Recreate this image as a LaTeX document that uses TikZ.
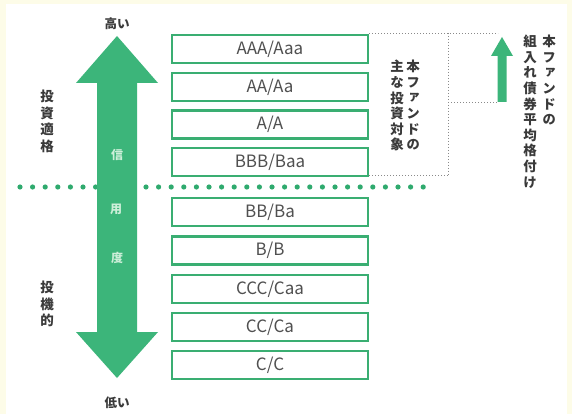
\documentclass[tikz,border=0pt]{standalone}
\usepackage{fontspec}
\setmainfont{Noto Sans CJK JP}
\newfontfamily\jpv[RawFeature=+vert]{Noto Sans CJK JP}
\definecolor{cream}{HTML}{FDFCE8}
\definecolor{agreen}{HTML}{3CB57A}
\definecolor{boxgreen}{HTML}{3AAE72}
\definecolor{dotgreen}{HTML}{2FAA6E}
\definecolor{textdark}{HTML}{3A3A3A}
\definecolor{textgray}{HTML}{505050}
\definecolor{palegreen}{HTML}{CDEFD9}
\definecolor{dotgray}{HTML}{8A8A8A}
\tikzset{
  rbox/.style={draw=boxgreen, line width=2.4, minimum width=196, minimum height=28, inner sep=0, fill=white,
    font=\fontsize{17}{17}\selectfont, text=textgray},
  hlabel/.style={inner sep=0, font=\bfseries\fontsize{12.5}{12.5}\selectfont, text=textdark},
  vlabel/.style={inner sep=0, align=center, text=textdark, font=\jpv\bfseries\fontsize{13.5}{16.5}\selectfont},
  vlabelr/.style={inner sep=0, align=center, text=textdark, anchor=north, font=\jpv\bfseries\fontsize{13.5}{15.6}\selectfont},
  innerlabel/.style={inner sep=0, text=palegreen, font=\bfseries\fontsize{12}{12}\selectfont},
  dotline/.style={draw=dotgray, line width=0.9, dash pattern=on 0.9pt off 2.1pt},
}
\begin{document}
\begin{tikzpicture}[x=1pt,y=-1pt]
\fill[cream] (0,0) rectangle (572,414);
\fill[white] (6,4) rectangle (567,414);
\useasboundingbox (0,0) rectangle (572,414);

% green dotted separator
\foreach \i in {0,...,32} \fill[dotgreen] (20+\i*12.6,187) circle (2.6);

% big double arrow
\fill[agreen] (117,36) -- (158,83) -- (137,83) -- (137,332) -- (158,332) -- (117,378)
  -- (76,332) -- (97,332) -- (97,83) -- (76,83) -- cycle;

\node[innerlabel] (c1) at (117,155) {信};
\node[innerlabel] (c2) at (116,209) {用};
\node[innerlabel] (c3) at (117,258) {度};

\node[hlabel] (hi) at (117,24) {高い};
\node[hlabel] (lo) at (117,403) {低い};

\node[vlabel] (ig) at (47,121.5) {投\\資\\適\\格};
\node[vlabel] (sp) at (47,304) {投\\機\\的};

% rating boxes
\node[rbox] (r1) at (270,49) {AAA/Aaa};
\node[rbox] (r2) at (270,87) {AA/Aa};
\node[rbox] (r3) at (270,124.5) {A/A};
\node[rbox] (r4) at (270,162) {BBB/Baa};
\node[rbox] (r5) at (270,212) {BB/Ba};
\node[rbox] (r6) at (270,250.5) {B/B};
\node[rbox] (r7) at (270,289) {CCC/Caa};
\node[rbox] (r8) at (270,327) {CC/Ca};
\node[rbox] (r9) at (270,365) {C/C};

% dotted brackets
\coordinate (p1) at (369,33);
\coordinate (p2) at (448,33);
\coordinate (p3) at (498,33);
\coordinate (p4) at (369,175);
\coordinate (p5) at (448,175);
\coordinate (p6) at (448,102);
\coordinate (p7) at (497,102);
\draw[dotline] (p1) -- (p3);
\draw[dotline] (p2) -- (p5);
\draw[dotline] (p4) -- (p5);
\draw[dotline] (p6) -- (p7);

% small arrow
\fill[agreen] (502,37) -- (513,56) -- (506.5,56) -- (506.5,102) -- (497.5,102) -- (497.5,56) -- (491,56) -- cycle;

% right labels
\node[vlabelr] (f1) at (413,60) {本\\フ\\ァ\\ン\\ド\\の};
\node[vlabelr] (f2) at (397,60) {主\\な\\投\\資\\対\\象};
\node[vlabelr] (g1) at (549,35) {本\\フ\\ァ\\ン\\ド\\の};
\node[vlabelr] (g2) at (530,35) {組\\入\\れ\\債\\券\\平\\均\\格\\付\\け};
\end{tikzpicture}
\end{document}
